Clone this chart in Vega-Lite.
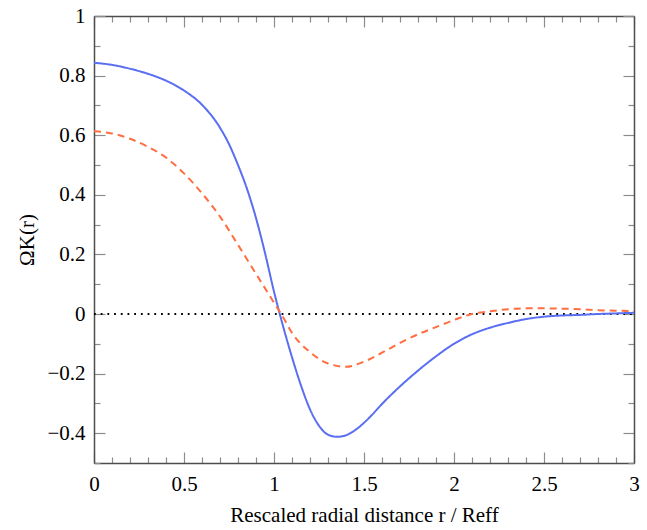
{
  "$schema": "https://vega.github.io/schema/vega-lite/v6.json",
  "width": 540,
  "height": 447,
  "autosize": {"type": "none"},
  "padding": {"left": 94, "top": 16, "right": 13, "bottom": 67},
  "background": "white",
  "config": {
    "view": {"stroke": null},
    "axis": {
      "labelFont": "Liberation Serif",
      "labelFontSize": 21,
      "labelColor": "black",
      "titleFont": "Liberation Serif",
      "titleFontSize": 21,
      "titleFontWeight": "normal",
      "titleColor": "black",
      "domainColor": "#4d4d4d",
      "domainWidth": 1.5,
      "tickColor": "#8c8c8c",
      "tickWidth": 1.2,
      "grid": false
    }
  },
  "resolve": {"axis": {"x": "independent", "y": "independent"}},
  "layer": [
    {
      "data": {"values": [{"x0": 0, "x1": 3, "y0": 0}]},
      "mark": {"type": "rule", "color": "black", "strokeDash": [1.8, 4.9], "strokeWidth": 1.8, "strokeCap": "butt"},
      "encoding": {
        "x": {
          "field": "x0", "type": "quantitative",
          "scale": {"domain": [0, 3], "nice": false, "zero": false},
          "axis": {
            "orient": "top", "title": null, "labels": false,
            "values": [0,0.1,0.2,0.3,0.4,0.5,0.6,0.7,0.8,0.9,1,1.1,1.2,1.3,1.4,1.5,1.6,1.7,1.8,1.9,2,2.1,2.2,2.3,2.4,2.5,2.6,2.7,2.8,2.9,3],
            "tickSize": {"condition": {"test": "abs(datum.value*2-round(datum.value*2))<1e-6", "value": -11}, "value": -6}
          }
        },
        "x2": {"field": "x1"},
        "y": {
          "field": "y0", "type": "quantitative",
          "scale": {"domain": [-0.5, 1], "nice": false, "zero": false},
          "axis": {
            "orient": "right", "title": null, "labels": false,
            "values": [-0.5,-0.4,-0.3,-0.2,-0.1,0,0.1,0.2,0.3,0.4,0.5,0.6,0.7,0.8,0.9,1],
            "tickSize": {"condition": {"test": "abs(datum.value*5-round(datum.value*5))<1e-6", "value": -11}, "value": -6}
          }
        }
      }
    },
    {
      "data": {"values": [
        {"x":0,"y":0.843,"s":"A"},{"x":0.1,"y":0.836,"s":"A"},{"x":0.2,"y":0.823,"s":"A"},{"x":0.3,"y":0.806,"s":"A"},{"x":0.4,"y":0.783,"s":"A"},{"x":0.5,"y":0.750,"s":"A"},{"x":0.6,"y":0.702,"s":"A"},{"x":0.7,"y":0.625,"s":"A"},{"x":0.75,"y":0.570,"s":"A"},{"x":0.8,"y":0.500,"s":"A"},{"x":0.85,"y":0.420,"s":"A"},{"x":0.9,"y":0.322,"s":"A"},{"x":0.95,"y":0.205,"s":"A"},{"x":1.0,"y":0.075,"s":"A"},{"x":1.05,"y":-0.040,"s":"A"},{"x":1.1,"y":-0.145,"s":"A"},{"x":1.15,"y":-0.240,"s":"A"},{"x":1.2,"y":-0.320,"s":"A"},{"x":1.25,"y":-0.375,"s":"A"},{"x":1.3,"y":-0.405,"s":"A"},{"x":1.35,"y":-0.412,"s":"A"},{"x":1.4,"y":-0.407,"s":"A"},{"x":1.45,"y":-0.390,"s":"A"},{"x":1.5,"y":-0.365,"s":"A"},{"x":1.55,"y":-0.335,"s":"A"},{"x":1.6,"y":-0.302,"s":"A"},{"x":1.7,"y":-0.243,"s":"A"},{"x":1.8,"y":-0.190,"s":"A"},{"x":1.9,"y":-0.142,"s":"A"},{"x":2.0,"y":-0.100,"s":"A"},{"x":2.1,"y":-0.068,"s":"A"},{"x":2.2,"y":-0.046,"s":"A"},{"x":2.3,"y":-0.030,"s":"A"},{"x":2.4,"y":-0.017,"s":"A"},{"x":2.5,"y":-0.009,"s":"A"},{"x":2.6,"y":-0.005,"s":"A"},{"x":2.7,"y":-0.003,"s":"A"},{"x":2.8,"y":0.000,"s":"A"},{"x":2.9,"y":0.002,"s":"A"},{"x":3.0,"y":0.004,"s":"A"},
        {"x":0,"y":0.613,"s":"B"},{"x":0.1,"y":0.606,"s":"B"},{"x":0.2,"y":0.588,"s":"B"},{"x":0.3,"y":0.561,"s":"B"},{"x":0.4,"y":0.525,"s":"B"},{"x":0.5,"y":0.472,"s":"B"},{"x":0.6,"y":0.405,"s":"B"},{"x":0.7,"y":0.327,"s":"B"},{"x":0.8,"y":0.232,"s":"B"},{"x":0.9,"y":0.135,"s":"B"},{"x":1.0,"y":0.038,"s":"B"},{"x":1.05,"y":-0.010,"s":"B"},{"x":1.1,"y":-0.063,"s":"B"},{"x":1.2,"y":-0.128,"s":"B"},{"x":1.3,"y":-0.166,"s":"B"},{"x":1.4,"y":-0.177,"s":"B"},{"x":1.5,"y":-0.160,"s":"B"},{"x":1.6,"y":-0.130,"s":"B"},{"x":1.7,"y":-0.097,"s":"B"},{"x":1.8,"y":-0.068,"s":"B"},{"x":1.9,"y":-0.044,"s":"B"},{"x":2.0,"y":-0.020,"s":"B"},{"x":2.1,"y":0.000,"s":"B"},{"x":2.2,"y":0.009,"s":"B"},{"x":2.3,"y":0.016,"s":"B"},{"x":2.4,"y":0.019,"s":"B"},{"x":2.5,"y":0.019,"s":"B"},{"x":2.6,"y":0.018,"s":"B"},{"x":2.7,"y":0.016,"s":"B"},{"x":2.8,"y":0.013,"s":"B"},{"x":2.9,"y":0.011,"s":"B"},{"x":3.0,"y":0.010,"s":"B"}
      ]},
      "mark": {"type": "line", "strokeWidth": 2, "interpolate": "monotone"},
      "encoding": {
        "x": {
          "field": "x", "type": "quantitative",
          "scale": {"domain": [0, 3], "nice": false, "zero": false},
          "axis": {
            "orient": "bottom",
            "title": "Rescaled radial distance r / Reff",
            "titlePadding": 10,
            "values": [0,0.1,0.2,0.3,0.4,0.5,0.6,0.7,0.8,0.9,1,1.1,1.2,1.3,1.4,1.5,1.6,1.7,1.8,1.9,2,2.1,2.2,2.3,2.4,2.5,2.6,2.7,2.8,2.9,3],
            "labelExpr": "abs(datum.value*2-round(datum.value*2))<1e-6 ? format(datum.value,'~g') : ''",
            "labelPadding": 21,
            "labelFlush": false,
            "tickSize": {"condition": {"test": "abs(datum.value*2-round(datum.value*2))<1e-6", "value": -11}, "value": -6}
          }
        },
        "y": {
          "field": "y", "type": "quantitative",
          "scale": {"domain": [-0.5, 1], "nice": false, "zero": false},
          "axis": {
            "orient": "left",
            "title": "ΩK(r)",
            "titlePadding": 9,
            "values": [-0.5,-0.4,-0.3,-0.2,-0.1,0,0.1,0.2,0.3,0.4,0.5,0.6,0.7,0.8,0.9,1],
            "labelExpr": "abs(datum.value*5-round(datum.value*5))<1e-6 ? (datum.value < 0 ? '\u2212' + format(-datum.value,'~g') : format(datum.value,'~g')) : ''",
            "labelPadding": 20,
            "labelFlush": false,
            "tickSize": {"condition": {"test": "abs(datum.value*5-round(datum.value*5))<1e-6", "value": -11}, "value": -6}
          }
        },
        "color": {"field": "s", "type": "nominal", "scale": {"domain": ["A", "B"], "range": ["#5a6ef2", "#ff6e40"]}, "legend": null},
        "strokeDash": {"field": "s", "type": "nominal", "scale": {"domain": ["A", "B"], "range": [[1, 0], [7, 5]]}, "legend": null}
      }
    }
  ]
}
